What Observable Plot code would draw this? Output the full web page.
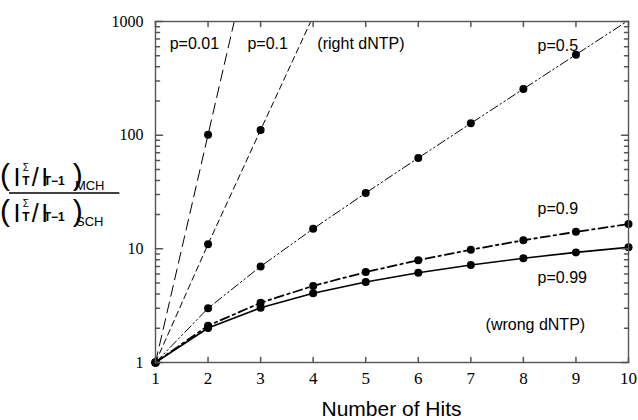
<!DOCTYPE html>
<html>
<head>
<meta charset="utf-8">
<script src="https://cdn.jsdelivr.net/npm/d3@7"></script>
<script src="https://cdn.jsdelivr.net/npm/@observablehq/plot@0.6"></script>
<style>
  html, body { margin: 0; padding: 0; background: white; }
  #chart { position: relative; width: 638px; height: 420px; }
</style>
</head>
<body>
<div id="chart"></div>
<script>
// ---- data ----
const hits = [1, 2, 3, 4, 5, 6, 7, 8, 9, 10];
const p001 = [1, 101, 10101];
const p01 = [1, 11, 111, 1111];
const p05 = [1, 3, 7, 15, 31, 63, 127, 255, 511, 1023];
const p09 = [1, 2.11, 3.35, 4.72, 6.24, 7.94, 9.82, 11.9, 14.1, 16.5];
const p099 = [1, 2.01, 3.03, 4.06, 5.1, 6.15, 7.2, 8.27, 9.3, 10.3];
const seriesNames = ["p=0.01", "p=0.1", "p=0.5", "p=0.9", "p=0.99"];
const yTicks = [1, 10, 100, 1000];
const yMinor = [2, 3, 4, 5, 6, 7, 8, 9, 20, 30, 40, 50, 60, 70, 80, 90, 200, 300, 400, 500, 600, 700, 800, 900];
const xTicks = [1, 2, 3, 4, 5, 6, 7, 8, 9, 10];
const annotations = [
  {text: "p=0.01", x: 1.27, y: 640},
  {text: "p=0.1", x: 2.75, y: 640},
  {text: "(right dNTP)", x: 4.08, y: 640},
  {text: "p=0.5", x: 8.27, y: 615},
  {text: "p=0.9", x: 8.27, y: 22.6},
  {text: "p=0.99", x: 8.27, y: 5.6},
  {text: "(wrong dNTP)", x: 7.28, y: 2.16}
];

const seriesValues = [p001, p01, p05, p09, p099];
const styles = [
  {dash: "11,6", width: 1},
  {dash: "6,4", width: 1},
  {dash: "9,3,1.5,3,1.5,3", width: 1},
  {dash: "9,4,2.5,4", width: 1.8},
  {dash: null, width: 1.6}
];

const rows = seriesNames.map((name, i) => seriesValues[i].map((v, j) => ({name, x: hits[j], y: v})));
const allPts = rows.flat().filter(d => d.y <= 1000);

const tickShape = {draw(context, l) { context.moveTo(0, 0); context.lineTo(0, -l); }};
const SANS = "'Liberation Sans', Arial, Helvetica, sans-serif";
const SERIF = "'Liberation Serif', 'Times New Roman', serif";

const marks = [];
rows.forEach((r, i) => {
  marks.push(Plot.line(r, {x: "x", y: "y", stroke: "black", strokeWidth: styles[i].width,
    strokeDasharray: styles[i].dash, clip: true}));
});
marks.push(Plot.dot(allPts, {x: "x", y: "y", r: 4, fill: "black"}));
marks.push(Plot.frame({stroke: "#555", strokeWidth: 1.4}));
// inward ticks
marks.push(Plot.vector(yTicks, {y: d => d, frameAnchor: "left", rotate: 90, length: 7, anchor: "start", shape: tickShape, stroke: "#555"}));
marks.push(Plot.vector(yMinor, {y: d => d, frameAnchor: "left", rotate: 90, length: 4, anchor: "start", shape: tickShape, stroke: "#555"}));
marks.push(Plot.vector(yTicks, {y: d => d, frameAnchor: "right", rotate: -90, length: 7, anchor: "start", shape: tickShape, stroke: "#555"}));
marks.push(Plot.vector(yMinor, {y: d => d, frameAnchor: "right", rotate: -90, length: 4, anchor: "start", shape: tickShape, stroke: "#555"}));
marks.push(Plot.vector(xTicks, {x: d => d, frameAnchor: "bottom", rotate: 0, length: 5, anchor: "start", shape: tickShape, stroke: "#555"}));
marks.push(Plot.vector(xTicks, {x: d => d, frameAnchor: "top", rotate: 180, length: 5, anchor: "start", shape: tickShape, stroke: "#555"}));
// axes labels
marks.push(Plot.axisY(yTicks, {tickSize: 0, tickPadding: 12, fontSize: 16, fontFamily: SERIF, tickFormat: d => String(d), label: null}));
marks.push(Plot.axisX(xTicks, {tickSize: 0, tickPadding: 9, fontSize: 17, fontFamily: SERIF, tickFormat: d => String(d), label: null}));
marks.push(Plot.text(annotations, {x: "x", y: "y", text: "text", textAnchor: "start", fontSize: 16, fontFamily: SANS, fill: "black"}));

const plot = Plot.plot({
  width: 638,
  height: 420,
  marginLeft: 155,
  marginRight: 10,
  marginTop: 21,
  marginBottom: 58,
  x: {domain: [1, 10], label: null},
  y: {type: "log", domain: [1, 1000], label: null},
  style: {fontFamily: SANS, color: "black", background: "white", overflow: "visible"},
  marks
});
document.getElementById("chart").appendChild(plot);

// x axis title
const svg = d3.select(plot);
const xs = plot.scale("x");
svg.append("text")
  .attr("x", (xs.apply(1) + xs.apply(10)) / 2)
  .attr("y", 416)
  .attr("text-anchor", "middle")
  .attr("font-family", SANS)
  .attr("font-size", 21)
  .attr("fill", "black")
  .text("Number of Hits");

// y axis title: ratio of ratios, laid out piece by piece with measured widths
const lab = svg.append("g").attr("font-family", SANS).attr("fill", "black");
function piece(x, y, str, size, weight) {
  const t = lab.append("text").attr("x", x).attr("y", y)
    .attr("font-size", size).attr("font-weight", weight || "normal").text(str);
  return t.node().getComputedTextLength();
}
function row(dy, tag) {
  let x = 5;
  x += piece(x, 185 + dy, "(", 30) + 2;
  x += piece(x, 186 + dy, "I", 25) + 2;
  const w1 = piece(x, 170.5 + dy, "Σ", 10);
  const w2 = piece(x, 185 + dy, "T", 12, "bold");
  x += Math.max(w1, w2) + 2;
  x += piece(x, 186 + dy, "/", 25) + 2.5;
  x += piece(x, 186 + dy, "I", 25) + 2.5;
  x += piece(x, 185 + dy, "T−1", 12, "bold") + 2.5;
  x += piece(x, 185 + dy, ")", 30) + 2;
  x += piece(x, 190 + dy, tag, 13);
  return x;
}
const end = Math.max(row(0, "MCH"), row(36, "SCH"));
lab.append("line").attr("x1", 9).attr("x2", end).attr("y1", 193).attr("y2", 193)
  .attr("stroke", "black").attr("stroke-width", 1.5);
</script>
</body>
</html>
